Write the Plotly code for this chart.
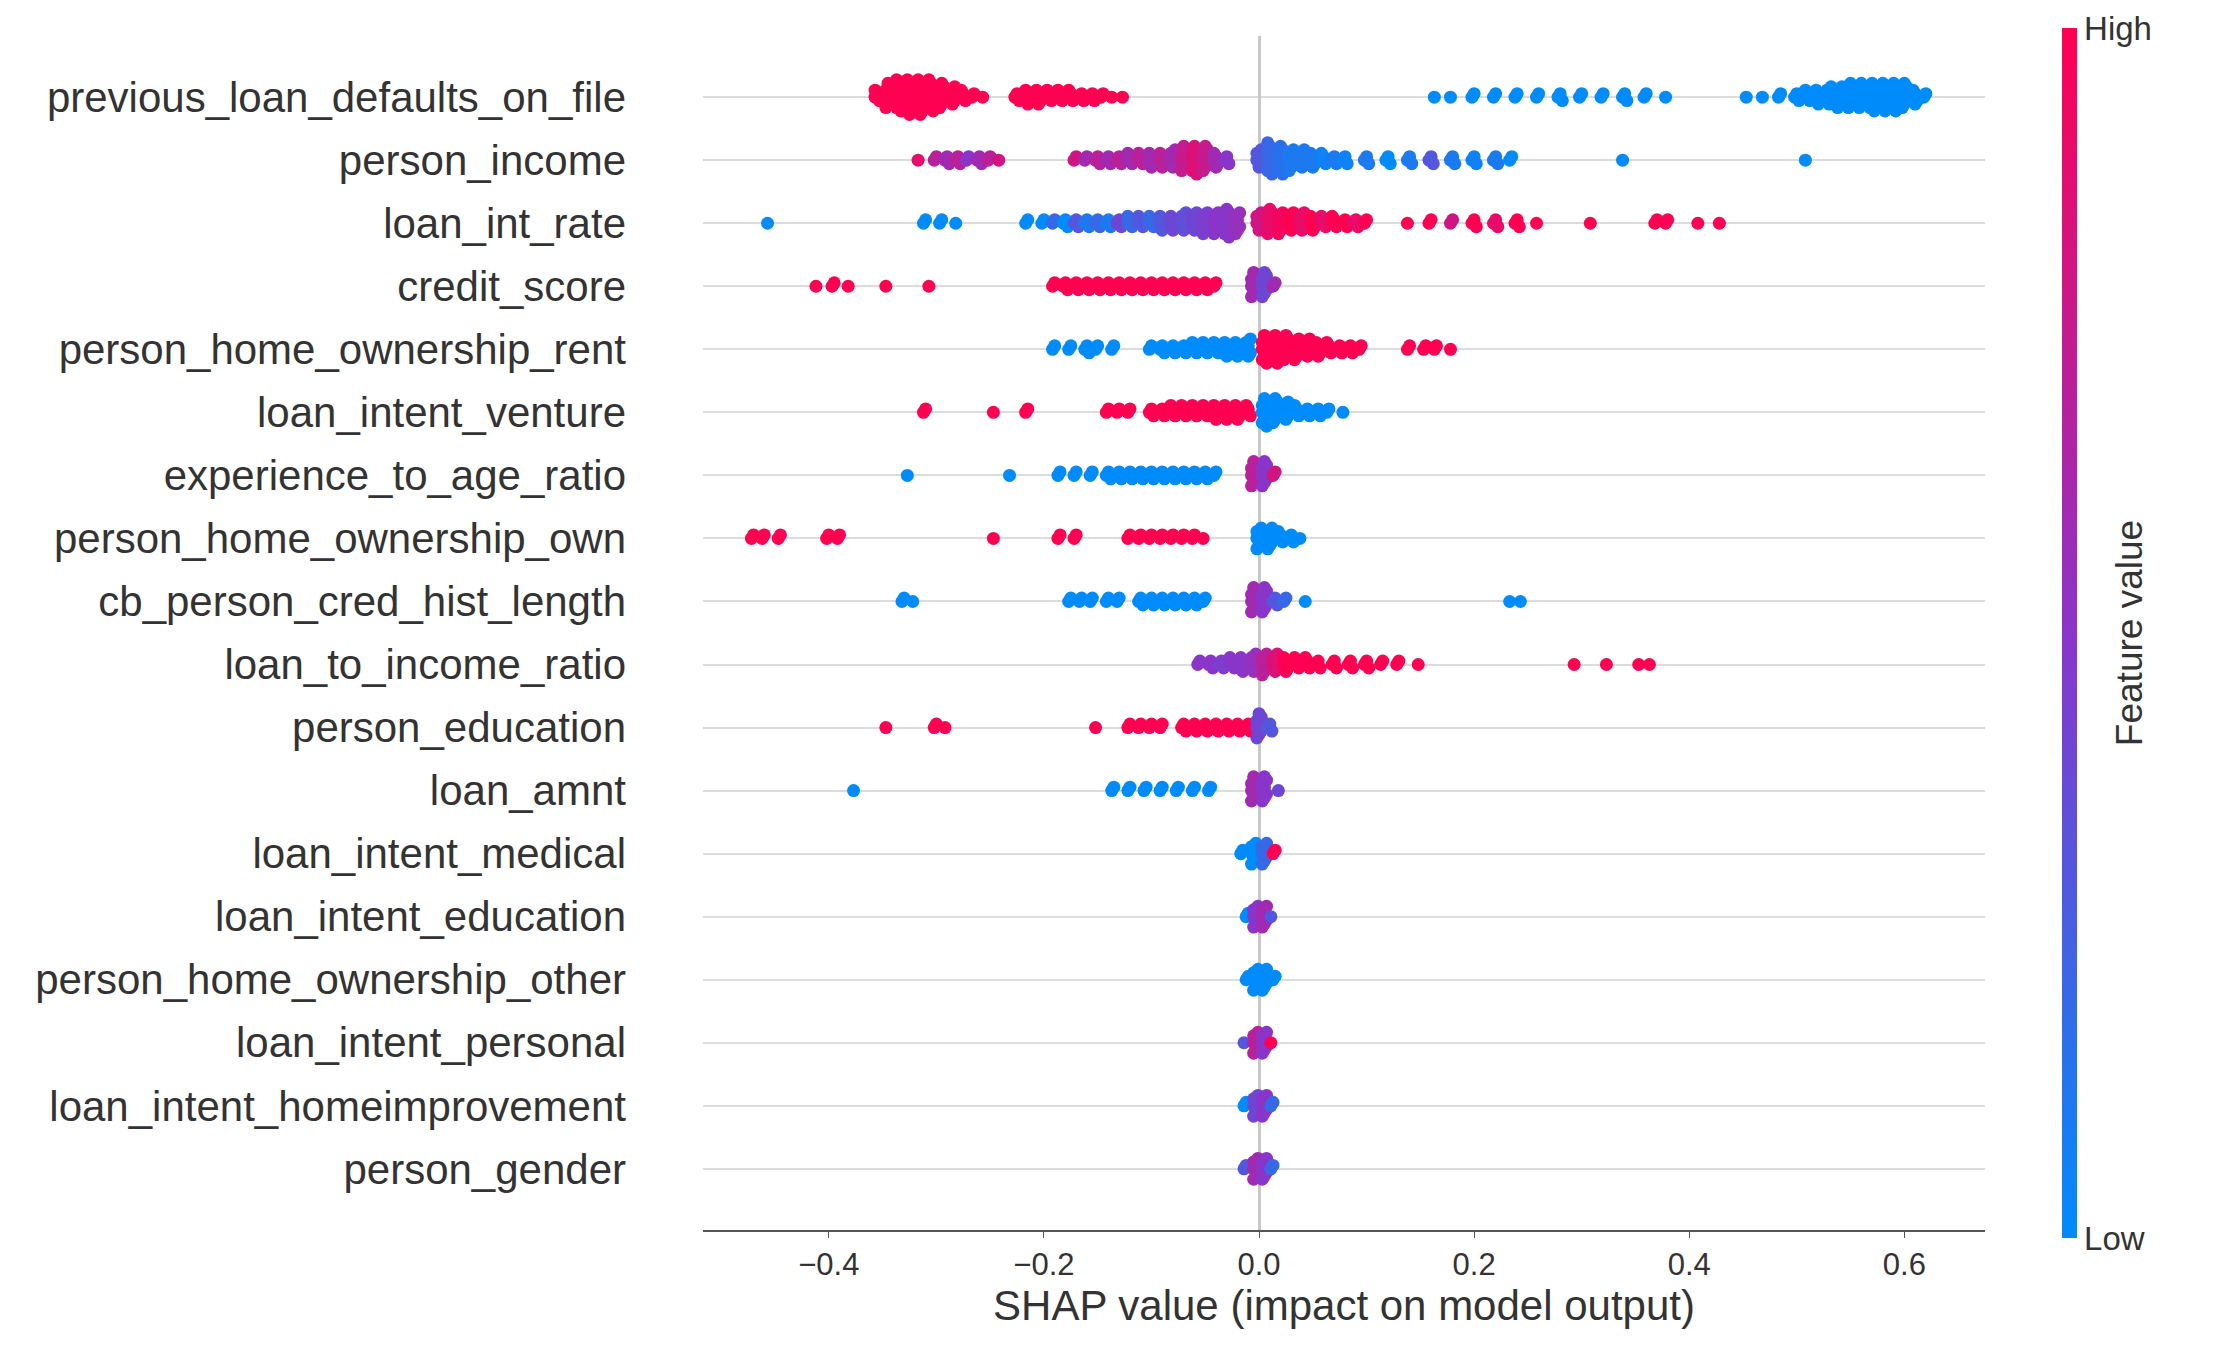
import plotly.graph_objects as go

# feature names, top row first
features = [
    "previous_loan_defaults_on_file", "person_income", "loan_int_rate", "credit_score",
    "person_home_ownership_rent", "loan_intent_venture", "experience_to_age_ratio",
    "person_home_ownership_own", "cb_person_cred_hist_length", "loan_to_income_ratio",
    "person_education", "loan_amnt", "loan_intent_medical", "loan_intent_education",
    "person_home_ownership_other", "loan_intent_personal", "loan_intent_homeimprovement",
    "person_gender",
]

# (shap value, number of points near it, feature value 0=low 1=high)
previous_loan_defaults_on_file = [
    (-0.355, 4, 1), (-0.345, 8, 1), (-0.335, 10, 1), (-0.325, 11, 1), (-0.315, 11, 1), (-0.305, 10, 1),
    (-0.295, 8, 1), (-0.285, 6, 1), (-0.275, 4, 1), (-0.265, 2, 1), (-0.255, 1, 1),
    (-0.225, 3, 1), (-0.215, 5, 1), (-0.205, 5, 1), (-0.195, 4, 1), (-0.185, 4, 1), (-0.175, 4, 1),
    (-0.165, 3, 1), (-0.155, 3, 1), (-0.145, 2, 1), (-0.135, 1, 1), (-0.125, 1, 1),
    (0.165, 1, 0), (0.18, 1, 0), (0.2, 2, 0), (0.22, 2, 0), (0.24, 2, 0), (0.26, 2, 0), (0.28, 3, 0),
    (0.30, 2, 0), (0.32, 2, 0), (0.34, 3, 0), (0.36, 2, 0), (0.38, 1, 0),
    (0.455, 1, 0), (0.47, 1, 0), (0.485, 2, 0), (0.50, 3, 0), (0.51, 4, 0), (0.52, 5, 0), (0.53, 6, 0),
    (0.54, 7, 0), (0.55, 8, 0), (0.56, 8, 0), (0.57, 9, 0), (0.58, 9, 0), (0.59, 9, 0), (0.60, 8, 0),
    (0.61, 5, 0), (0.62, 2, 0),
]
person_income = [
    (-0.315, 1, 0.9), (-0.30, 2, 0.7), (-0.29, 3, 0.6), (-0.28, 3, 0.7), (-0.27, 2, 0.5), (-0.26, 3, 0.6),
    (-0.25, 2, 0.7), (-0.24, 1, 0.8),
    (-0.17, 2, 0.8), (-0.16, 2, 0.6), (-0.15, 3, 0.7), (-0.14, 3, 0.6), (-0.13, 3, 0.7), (-0.12, 4, 0.6),
    (-0.11, 4, 0.7), (-0.10, 5, 0.6), (-0.09, 5, 0.7), (-0.08, 6, 0.6), (-0.07, 8, 0.75), (-0.06, 9, 0.85),
    (-0.05, 8, 0.75), (-0.04, 5, 0.6), (-0.03, 3, 0.5),
    (0.00, 6, 0.3), (0.01, 10, 0.2), (0.02, 9, 0.15), (0.03, 7, 0.1), (0.04, 6, 0.1), (0.05, 5, 0.1),
    (0.06, 4, 0.05), (0.07, 3, 0.1), (0.08, 3, 0.05), (0.10, 3, 0.1), (0.12, 3, 0.0), (0.14, 3, 0.1),
    (0.16, 3, 0.3), (0.18, 3, 0.1), (0.20, 3, 0.05), (0.22, 3, 0.1), (0.235, 2, 0.0),
    (0.34, 1, 0), (0.51, 1, 0),
]
loan_int_rate = [
    (-0.455, 1, 0), (-0.31, 2, 0), (-0.295, 2, 0), (-0.28, 1, 0),
    (-0.215, 2, 0), (-0.20, 2, 0), (-0.19, 2, 0.2), (-0.18, 3, 0), (-0.17, 3, 0.3), (-0.16, 3, 0.1),
    (-0.15, 3, 0.2), (-0.14, 3, 0.1), (-0.13, 3, 0.4), (-0.12, 4, 0.2), (-0.11, 4, 0.3), (-0.10, 4, 0.2),
    (-0.09, 5, 0.3), (-0.08, 5, 0.4), (-0.07, 6, 0.35), (-0.06, 6, 0.4), (-0.05, 7, 0.45), (-0.04, 7, 0.5),
    (-0.03, 9, 0.5), (-0.02, 7, 0.55),
    (0.00, 6, 0.8), (0.01, 8, 0.9), (0.02, 7, 0.95), (0.03, 6, 1), (0.04, 6, 0.9), (0.05, 5, 1),
    (0.06, 4, 0.9), (0.07, 4, 1), (0.08, 3, 1), (0.09, 3, 0.9), (0.10, 2, 1),
    (0.14, 1, 1), (0.16, 2, 1), (0.18, 2, 0.8), (0.20, 3, 1), (0.22, 3, 0.9), (0.24, 3, 1), (0.26, 1, 1),
    (0.31, 1, 1), (0.37, 2, 1), (0.38, 2, 1), (0.41, 1, 1), (0.43, 1, 1),
]
credit_score = [
    (-0.41, 1, 1), (-0.395, 2, 1), (-0.38, 1, 1), (-0.345, 1, 1), (-0.305, 1, 1),
    (-0.19, 2, 1), (-0.18, 3, 1), (-0.17, 3, 1), (-0.16, 3, 1), (-0.15, 3, 1), (-0.14, 3, 1),
    (-0.13, 3, 1), (-0.12, 3, 1), (-0.11, 3, 1), (-0.10, 3, 1), (-0.09, 3, 1), (-0.08, 3, 1),
    (-0.07, 3, 1), (-0.06, 3, 1), (-0.05, 3, 1), (-0.04, 2, 1),
    (-0.005, 8, 0.6), (0.005, 8, 0.4), (0.015, 2, 0.6),
]
person_home_ownership_rent = [
    (-0.19, 2, 0), (-0.175, 2, 0), (-0.16, 3, 0), (-0.15, 2, 0), (-0.135, 2, 0),
    (-0.10, 2, 0), (-0.09, 3, 0), (-0.08, 3, 0), (-0.07, 3, 0), (-0.06, 4, 0), (-0.05, 4, 0),
    (-0.04, 4, 0), (-0.03, 5, 0), (-0.02, 5, 0), (-0.01, 6, 0),
    (0.005, 9, 1), (0.015, 9, 1), (0.025, 8, 1), (0.035, 7, 1), (0.045, 6, 1), (0.055, 5, 1),
    (0.065, 4, 1), (0.075, 3, 1), (0.085, 3, 1), (0.095, 2, 1),
    (0.14, 2, 1), (0.155, 2, 1), (0.165, 2, 1), (0.18, 1, 1),
]
loan_intent_venture = [
    (-0.31, 2, 1), (-0.245, 1, 1), (-0.215, 2, 1),
    (-0.14, 2, 1), (-0.13, 2, 1), (-0.12, 2, 1), (-0.10, 3, 1), (-0.09, 3, 1), (-0.08, 4, 1),
    (-0.07, 4, 1), (-0.06, 4, 1), (-0.05, 4, 1), (-0.04, 5, 1), (-0.03, 5, 1), (-0.02, 5, 1), (-0.01, 4, 1),
    (0.005, 9, 0), (0.015, 8, 0), (0.025, 6, 0), (0.035, 4, 0), (0.045, 3, 0), (0.055, 3, 0),
    (0.065, 2, 0), (0.08, 1, 0),
]
experience_to_age_ratio = [
    (-0.325, 1, 0), (-0.23, 1, 0), (-0.185, 2, 0), (-0.17, 2, 0), (-0.155, 2, 0), (-0.14, 3, 0),
    (-0.13, 3, 0), (-0.12, 3, 0), (-0.11, 3, 0), (-0.10, 3, 0), (-0.09, 3, 0), (-0.08, 3, 0),
    (-0.07, 3, 0), (-0.06, 3, 0), (-0.05, 3, 0), (-0.04, 2, 0),
    (-0.005, 8, 0.7), (0.005, 8, 0.5), (0.015, 2, 0.8),
]
person_home_ownership_own = [
    (-0.47, 2, 1), (-0.46, 2, 1), (-0.445, 2, 1), (-0.40, 2, 1), (-0.39, 2, 1), (-0.245, 1, 1),
    (-0.185, 2, 1), (-0.17, 2, 1), (-0.12, 2, 1), (-0.11, 2, 1), (-0.10, 2, 1), (-0.09, 2, 1),
    (-0.08, 2, 1), (-0.07, 2, 1), (-0.06, 2, 1), (-0.05, 1, 1),
    (0.00, 7, 0), (0.01, 7, 0), (0.02, 4, 0), (0.03, 3, 0), (0.04, 1, 0),
]
cb_person_cred_hist_length = [
    (-0.33, 2, 0), (-0.32, 1, 0),
    (-0.175, 2, 0), (-0.165, 2, 0), (-0.155, 2, 0), (-0.14, 2, 0), (-0.13, 2, 0), (-0.11, 3, 0),
    (-0.10, 3, 0), (-0.09, 3, 0), (-0.08, 3, 0), (-0.07, 3, 0), (-0.06, 3, 0), (-0.05, 2, 0),
    (-0.005, 8, 0.6), (0.005, 8, 0.5), (0.015, 3, 0.3), (0.025, 2, 0.2), (0.045, 1, 0),
    (0.235, 1, 0), (0.245, 1, 0),
]
loan_to_income_ratio = [
    (-0.055, 2, 0.5), (-0.045, 3, 0.5), (-0.035, 3, 0.45), (-0.025, 4, 0.5), (-0.015, 5, 0.5),
    (-0.005, 6, 0.55), (0.005, 7, 0.7), (0.015, 6, 0.85), (0.025, 5, 1), (0.035, 4, 1),
    (0.045, 4, 1), (0.055, 3, 1), (0.07, 3, 1), (0.085, 3, 1), (0.10, 3, 1), (0.115, 2, 1),
    (0.13, 2, 1), (0.15, 1, 1),
    (0.295, 1, 1), (0.325, 1, 1), (0.355, 1, 1), (0.365, 1, 1),
]
person_education = [
    (-0.345, 1, 1), (-0.30, 2, 1), (-0.29, 1, 1),
    (-0.15, 1, 1), (-0.12, 2, 1), (-0.11, 2, 1), (-0.10, 2, 1), (-0.09, 2, 1), (-0.07, 3, 1),
    (-0.06, 3, 1), (-0.05, 3, 1), (-0.04, 3, 1), (-0.03, 3, 1), (-0.02, 3, 1), (-0.01, 3, 1),
    (0.00, 8, 0.4), (0.01, 3, 0.3),
]
loan_amnt = [
    (-0.375, 1, 0), (-0.135, 2, 0), (-0.12, 2, 0), (-0.105, 2, 0), (-0.09, 2, 0), (-0.075, 2, 0),
    (-0.06, 2, 0), (-0.045, 2, 0),
    (-0.005, 8, 0.6), (0.005, 8, 0.5), (0.02, 1, 0.4),
]
loan_intent_medical = [(-0.015, 2, 0), (-0.005, 7, 0), (0.005, 7, 0.2), (0.015, 2, 1)]
loan_intent_education = [(-0.01, 2, 0), (-0.003, 7, 0.5), (0.005, 7, 0.6), (0.013, 1, 0.3)]
person_home_ownership_other = [(-0.01, 2, 0), (-0.003, 7, 0), (0.005, 7, 0), (0.015, 2, 0)]
loan_intent_personal = [(-0.012, 1, 0.3), (-0.003, 7, 0.7), (0.005, 7, 0.5), (0.013, 1, 1)]
loan_intent_homeimprovement = [(-0.012, 2, 0), (-0.003, 7, 0.4), (0.005, 7, 0.5), (0.013, 2, 0.2)]
person_gender = [(-0.012, 2, 0.3), (-0.003, 7, 0.6), (0.005, 7, 0.5), (0.013, 2, 0.2)]

rows = [
    previous_loan_defaults_on_file, person_income, loan_int_rate, credit_score,
    person_home_ownership_rent, loan_intent_venture, experience_to_age_ratio,
    person_home_ownership_own, cb_person_cred_hist_length, loan_to_income_ratio,
    person_education, loan_amnt, loan_intent_medical, loan_intent_education,
    person_home_ownership_other, loan_intent_personal, loan_intent_homeimprovement,
    person_gender,
]

# spread each group of points into a little beeswarm column
xs, ys, cs = [], [], []
n_rows = len(features)
for i, row in enumerate(rows):
    yc = n_rows - 1 - i
    for x, n, v in row:
        for k in range(n):
            step = (k + 1) // 2
            sign = 1 if k % 2 else -1
            off = min(step * 0.055, 0.4) * sign
            dx = ((k % 3) - 1) * 0.002
            xs.append(x + dx)
            ys.append(yc + off)
            cs.append(v)

fig = go.Figure()
fig.add_trace(go.Scatter(
    x=xs, y=ys, mode="markers",
    marker=dict(
        size=13, color=cs, cmin=0, cmax=1,
        colorscale=[[0, "#008bfb"], [0.5, "#8a35c9"], [1, "#ff0052"]],
        line=dict(width=0),
        colorbar=dict(
            thickness=15, len=1.03, x=0.922, xref="container", xanchor="left",
            y=0.5, yanchor="middle", outlinewidth=0,
            tickvals=[0, 1], ticktext=["Low", "High"], ticks="",
            tickfont=dict(size=33, color="#333"),
            title=dict(text="Feature value", side="right", font=dict(size=37, color="#333")),
        ),
    ),
    showlegend=False,
))

fig.update_layout(
    width=2217, height=1371,
    margin=dict(l=695, r=240, t=28, b=149),
    plot_bgcolor="white", paper_bgcolor="white",
    font=dict(family="Liberation Sans, Arial", color="#333"),
)
fig.update_xaxes(
    range=[-0.517, 0.675], tickvals=[-0.4, -0.2, 0, 0.2, 0.4, 0.6],
    ticktext=["\u22120.4", "\u22120.2", "0.0", "0.2", "0.4", "0.6"],
    showgrid=False, zeroline=True, zerolinecolor="#c8c8c8", zerolinewidth=3,
    showline=True, linecolor="#555", linewidth=1.5, ticks="outside", ticklen=6, tickcolor="#555",
    tickfont=dict(size=31, color="#333"),
    title=dict(text="SHAP value (impact on model output)", font=dict(size=42, color="#333"), standoff=6),
)
fig.update_yaxes(
    range=[-0.97, n_rows - 1 + 0.97],
    tickvals=list(range(n_rows)), ticktext=features[::-1],
    showgrid=True, gridcolor="#dcdcdc", gridwidth=2, zeroline=False, showline=False,
    ticks="", ticklabelstandoff=76, tickfont=dict(size=42, color="#333"),
)

fig.write_html("out.html")
